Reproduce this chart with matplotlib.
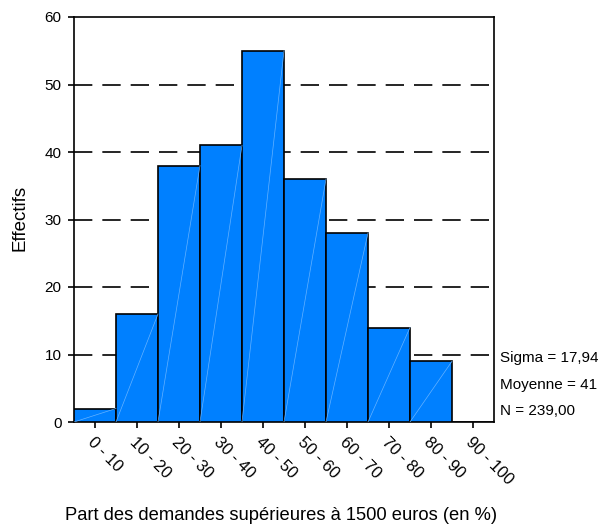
import numpy as np
import matplotlib.pyplot as plt

plt.rcParams['font.family'] = ['Liberation Sans', 'DejaVu Sans']

# histogram classes and counts
classes = ["0 - 10", "10 - 20", "20 - 30", "30 - 40", "40 - 50",
           "50 - 60", "60 - 70", "70 - 80", "80 - 90", "90 - 100"]
counts = [2, 16, 38, 41, 55, 36, 28, 14, 9, 0]
stats = ["Sigma = 17,94", "Moyenne = 41", "N = 239,00"]
yticks = [0, 10, 20, 30, 40, 50, 60]

fig = plt.figure(figsize=(6.02, 5.24), dpi=100)
ax = fig.add_axes([74/602, 1-422/524, 420/602, 405/524])

x = np.arange(len(classes))
bars = ax.bar(x, counts, width=1.0, color='#0080ff', edgecolor='black',
              linewidth=1.2, zorder=3)
# faint diagonal artefacts inside the bars
for b in bars:
    if b.get_height() > 0:
        ax.plot([b.get_x(), b.get_x()+b.get_width()], [0, b.get_height()],
                color='#66b3ff', lw=0.5, zorder=4)

for yv in yticks[1:-1]:
    ax.axhline(yv, color='black', lw=1.2, dashes=(11, 6), zorder=1)

ax.set_xlim(-0.5, len(classes)-0.5)
ax.set_ylim(0, 60)
ax.set_yticks(yticks)
ax.set_xticks(x)
ax.set_xticklabels(classes, rotation=-45, ha='left', va='top',
                   rotation_mode='anchor')
ax.tick_params(axis='both', direction='out', length=4, width=1.2,
               labelsize=11, colors='black', pad=5)
ax.tick_params(axis='x', pad=5, labelsize=11.8)
for s in ax.spines.values():
    s.set_linewidth(1.2)

fig.text(20/602, 1-218/524, "Effectifs", rotation=90, ha='center',
         va='center', fontsize=13.5)
fig.text(0.5*(65+497)/602, 1-516/524, "Part des demandes supérieures à 1500 euros (en %)",
         ha='center', va='center', fontsize=13.2)

for i, s in enumerate(stats):
    fig.text(500/602, 1-(358 + i*26.5)/524, s, ha='left', va='center',
             fontsize=11)

fig.savefig("out.png", dpi=100)
